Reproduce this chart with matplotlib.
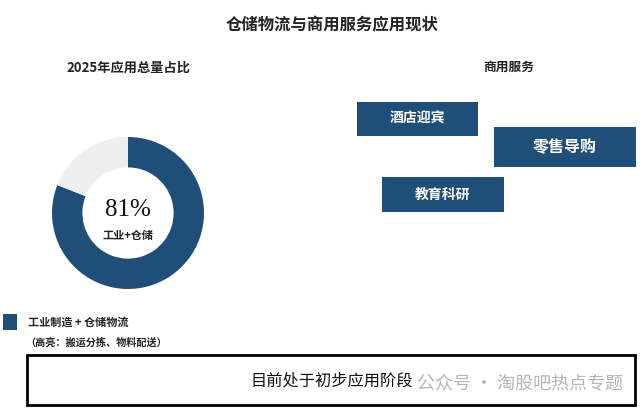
import matplotlib
matplotlib.use("Agg")
from matplotlib import pyplot as plt
from matplotlib.patches import Rectangle

plt.rcParams['font.family'] = ['Noto Sans CJK SC', 'DejaVu Sans']

# data
share_labels = ['工业+仓储', '其他']
share_values = [81, 19]
service_names = ['酒店迎宾', '零售导购', '教育科研']
title = '仓储物流与商用服务应用现状'
legend_main = '工业制造 + 仓储物流'
legend_note = '（高亮：搬运分拣、物料配送）'
footer = '目前处于初步应用阶段'

blue = '#1f4e79'
light = '#efefef'

W, H = 640, 411
fig = plt.figure(figsize=(W / 100, H / 100), dpi=100)
fig.patch.set_facecolor('white')

# canvas axes in pixel coordinates (y down)
ax = fig.add_axes([0, 0, 1, 1])
ax.set_xlim(0, W)
ax.set_ylim(H, 0)
ax.axis('off')

ax.text(332, 25, title, ha='center', va='center', fontsize=11.8,
        weight='bold', color='#222222')
ax.text(128, 68, '2025年应用总量占比', ha='center', va='center', fontsize=9.5,
        weight='bold', color='#222222')
ax.text(509, 67, '商用服务', ha='center', va='center', fontsize=9.2,
        weight='bold', color='#222222')

# donut
cx, cy, r = 128, 213, 76
pax = fig.add_axes([(cx - r) / W, (H - cy - r) / H, 2 * r / W, 2 * r / H])
pax.pie(share_values, colors=[blue, light], startangle=90, counterclock=False,
        wedgeprops=dict(width=0.4, edgecolor='none'))
pax.set_xlim(-1, 1)
pax.set_ylim(-1, 1)
pax.set_aspect('equal')
pax.axis('off')
ax.text(cx, 210, f'{share_values[0]}%', ha='center', va='center', fontsize=18,
        family='Liberation Serif', color='#111111')
ax.text(cx, 235, share_labels[0], ha='center', va='center', fontsize=8,
        weight='bold', color='#222222')

# service boxes
boxes = [(357, 102, 121, 34, 10), (494, 127, 142, 40, 11.5), (382, 177, 122, 35, 10)]
for name, (x, y, w, h, fs) in zip(service_names, boxes):
    ax.add_patch(Rectangle((x, y), w, h, facecolor=blue, edgecolor='none'))
    ax.text(x + w / 2, y + h / 2, name, ha='center', va='center', fontsize=fs,
            weight='bold', color='white')

# legend
ax.add_patch(Rectangle((3, 314), 14, 16, facecolor=blue, edgecolor='none'))
ax.text(28, 322, legend_main, ha='left', va='center', fontsize=8,
        weight='bold', color='#222222')
ax.text(25, 343, legend_note, ha='left', va='center', fontsize=7.3,
        weight='bold', color='#222222')

# footer box
ax.add_patch(Rectangle((27, 355), 608, 50, facecolor='white', edgecolor='black',
                       lw=2))
ax.text(332, 381, footer, ha='center', va='center', fontsize=11.7, color='#111111')
ax.text(520, 384, '公众号 · 淘股吧热点专题', ha='center', va='center',
        fontsize=13, color='#b5b5b5')

fig.savefig('out.png', dpi=100, facecolor='white')
